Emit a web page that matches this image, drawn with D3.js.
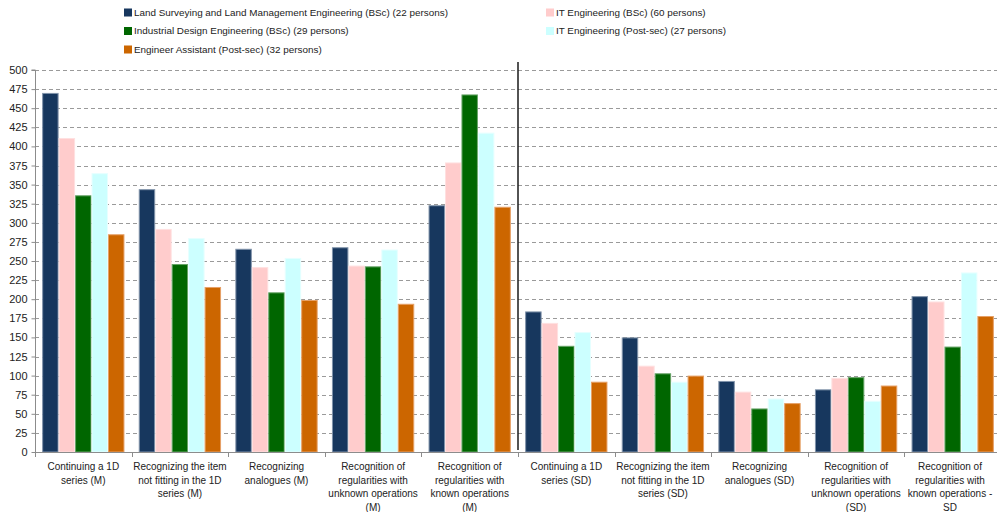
<!DOCTYPE html>
<html>
<head>
<meta charset="utf-8">
<script src="https://cdn.jsdelivr.net/npm/d3@7"></script>
<style>
  html, body { margin: 0; padding: 0; background: #fff; }
  svg { display: block; font-family: "Liberation Sans", Arial, sans-serif; }
</style>
</head>
<body>
<svg id="chart" width="997" height="512"></svg>
<script>
// Task categories (mean scores M, then standard deviations SD)
const categories = [
  ["Continuing a 1D", "series (M)"],
  ["Recognizing the item", "not fitting in the 1D", "series (M)"],
  ["Recognizing", "analogues (M)"],
  ["Recognition of", "regularities with", "unknown operations", "(M)"],
  ["Recognition of", "regularities with", "known operations", "(M)"],
  ["Continuing a 1D", "series (SD)"],
  ["Recognizing the item", "not fitting in the 1D", "series (SD)"],
  ["Recognizing", "analogues (SD)"],
  ["Recognition of", "regularities with", "unknown operations", "(SD)"],
  ["Recognition of", "regularities with", "known operations -", "SD"]
];

const seriesNames = [
  "Land Surveying and Land Management Engineering (BSc) (22 persons)",
  "IT Engineering (BSc) (60 persons)",
  "Industrial Design Engineering (BSc) (29 persons)",
  "IT Engineering (Post-sec) (27 persons)",
  "Engineer Assistant (Post-sec) (32 persons)"
];

const landSurveying   = [470, 344, 266, 268, 323, 184, 150, 93, 82, 204];
const itBSc           = [411, 292, 242, 244, 379, 169, 113, 79, 97, 197];
const industrialDesign= [336, 246, 209, 243, 468, 139, 103, 57, 98, 138];
const itPostSec       = [365, 280, 254, 265, 418, 157, 92, 70, 67, 235];
const engAssistant    = [285, 216, 199, 194, 321, 92, 100, 64, 87, 178];

const seriesValues = [landSurveying, itBSc, industrialDesign, itPostSec, engAssistant];
const seriesColors = ["#17375E", "#FFCCCC", "#006600", "#CCFFFF", "#CC6600"];
const seriesStroke = ["#8093aa", "#ffe0e0", "#66a366", "#e6ffff", "#e6a066"];

const yTicks = d3.range(0, 501, 25);

const svg = d3.select("#chart");
const margin = { left: 35, right: -4, top: 70, bottom: 60 };
const W = 997, H = 512;
const x0 = margin.left, x1 = W - margin.right;
const yBottom = 452, yTop = 70;

const x = d3.scaleBand()
  .domain(d3.range(categories.length))
  .range([x0, x1])
  .paddingInner(0.148)
  .paddingOuter(0.074);

const xSub = d3.scaleBand()
  .domain(d3.range(seriesNames.length))
  .range([0, x.bandwidth()]);

const y = d3.scaleLinear().domain([0, 500]).range([yBottom, yTop]);

// Horizontal dashed gridlines
svg.append("g")
  .selectAll("line")
  .data(yTicks.filter(d => d > 0))
  .join("line")
  .attr("x1", x0).attr("x2", W)
  .attr("y1", d => Math.round(y(d)) + 0.5)
  .attr("y2", d => Math.round(y(d)) + 0.5)
  .attr("stroke", "#9a9a9a")
  .attr("stroke-width", 1)
  .attr("stroke-dasharray", "4,3");

// Bars
const groups = svg.append("g")
  .selectAll("g")
  .data(categories.map((c, i) => i))
  .join("g")
  .attr("transform", i => `translate(${x(i)},0)`);

groups.selectAll("rect")
  .data(i => seriesValues.map((vals, s) => ({ s, v: vals[i] })))
  .join("rect")
  .attr("x", d => xSub(d.s) + 0.5)
  .attr("width", xSub.bandwidth() - 1)
  .attr("y", d => y(d.v) + 0.5)
  .attr("height", d => yBottom - y(d.v) - 0.5)
  .attr("fill", d => seriesColors[d.s])
  .attr("stroke", d => seriesStroke[d.s])
  .attr("stroke-width", 1);

// Y axis
const yAxis = svg.append("g")
  .attr("transform", `translate(${x0 + 0.5},0)`)
  .call(d3.axisLeft(y).tickValues(yTicks).tickSize(4).tickPadding(4).tickFormat(d3.format("d")));
yAxis.select(".domain").attr("stroke", "#8c8c8c").attr("d", `M-4,${yTop}H0V${yBottom}`);
yAxis.selectAll(".tick line").attr("stroke", "#8c8c8c");
yAxis.selectAll(".tick text")
  .attr("fill", "#222")
  .style("font-size", "11px")
  .style("font-family", "'Liberation Sans', Arial, sans-serif");

// X axis line with ticks at category boundaries
const xAxisG = svg.append("g");
xAxisG.append("line")
  .attr("x1", x0).attr("x2", W)
  .attr("y1", yBottom + 0.5).attr("y2", yBottom + 0.5)
  .attr("stroke", "#8c8c8c");
xAxisG.selectAll(".bt")
  .data(d3.range(categories.length + 1))
  .join("line")
  .attr("class", "bt")
  .attr("x1", i => Math.round(x0 + i * x.step()) + 0.5)
  .attr("x2", i => Math.round(x0 + i * x.step()) + 0.5)
  .attr("y1", yBottom).attr("y2", yBottom + 5)
  .attr("stroke", "#8c8c8c");

// Category labels
const lab = svg.append("g")
  .selectAll("text")
  .data(categories.map((c, i) => ({ c, i })))
  .join("text")
  .attr("text-anchor", "middle")
  .attr("fill", "#222")
  .style("font-size", "10px")
  .attr("x", d => x(d.i) + x.bandwidth() / 2)
  .attr("y", 470);
lab.selectAll("tspan")
  .data(d => d.c.map(line => ({ line, x: Math.min(x(d.i) + x.bandwidth() / 2, 950) })))
  .join("tspan")
  .attr("x", d => d.x)
  .attr("dy", (d, k) => k === 0 ? 0 : 13.7)
  .text(d => d.line);

// Separator between M and SD sections
svg.append("line")
  .attr("x1", x0 + 5 * x.step()).attr("x2", x0 + 5 * x.step())
  .attr("y1", 62).attr("y2", yBottom - 2)
  .attr("stroke", "#1a1a1a")
  .attr("stroke-width", 1.5);

// Legend
const legendPos = [
  { s: 0, x: 124, y: 12.5 },
  { s: 2, x: 124, y: 31 },
  { s: 4, x: 124, y: 49.5 },
  { s: 1, x: 546, y: 12.5 },
  { s: 3, x: 546, y: 31 }
];
const leg = svg.append("g")
  .selectAll("g")
  .data(legendPos)
  .join("g")
  .attr("transform", d => `translate(${d.x},${d.y})`);
leg.append("rect")
  .attr("x", 0).attr("y", -4)
  .attr("width", 8).attr("height", 8)
  .attr("fill", d => seriesColors[d.s]);
leg.append("text")
  .attr("x", 10).attr("y", 0)
  .attr("dy", "0.35em")
  .attr("fill", "#222")
  .style("font-size", "9.9px")
  .text(d => seriesNames[d.s]);
</script>
</body>
</html>
